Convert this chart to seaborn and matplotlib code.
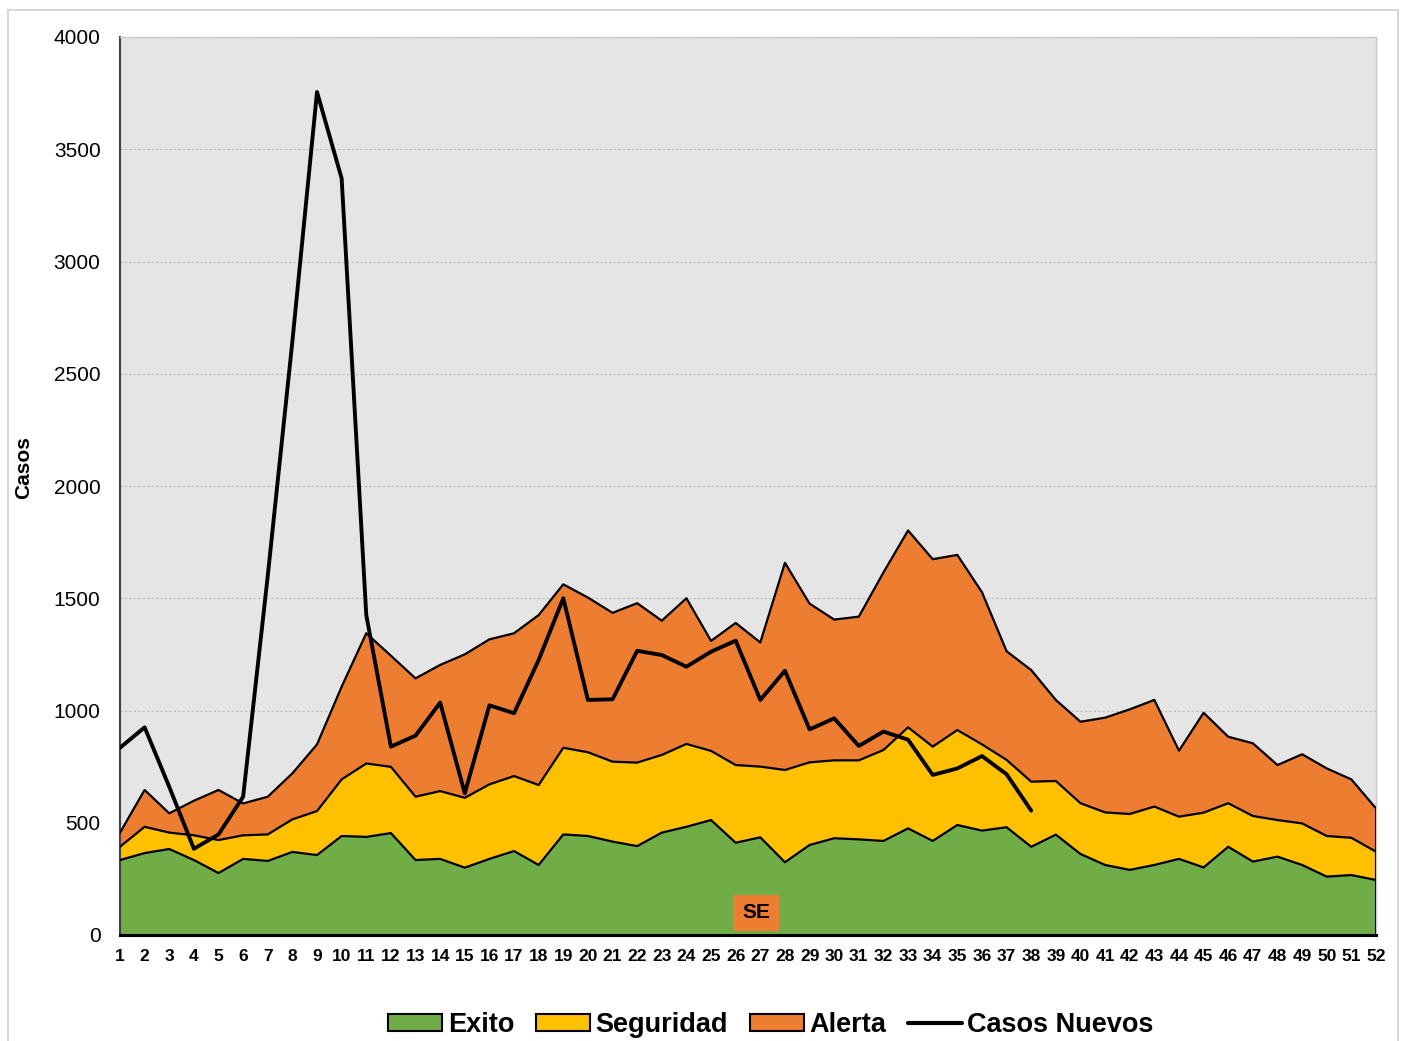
import numpy as np
import pandas as pd
import matplotlib
matplotlib.use("Agg")
import matplotlib.pyplot as plt
from matplotlib.patches import Patch, Rectangle
from matplotlib.lines import Line2D
import seaborn as sns

# ---------------- data ----------------
semanas = list(range(1, 53))

exito = [334, 365, 383, 334, 276, 339, 330, 370, 356, 441, 437, 454, 334, 339, 300, 339,
         374, 312, 448, 441, 416, 396, 456, 482, 512, 411, 435, 324, 401, 431, 426, 419,
         475, 419, 490, 465, 480, 393, 447, 361, 312, 290, 312, 339, 301, 393, 327, 349,
         312, 260, 267, 245]

seguridad = [393, 482, 456, 444, 423, 444, 448, 515, 552, 693, 764, 749, 616, 641, 611, 671,
             708, 668, 834, 814, 772, 768, 802, 851, 820, 757, 750, 735, 769, 778, 778, 824,
             925, 839, 913, 849, 780, 683, 686, 587, 546, 539, 572, 527, 545, 587, 530, 512,
             497, 441, 433, 371]

alerta = [456, 646, 542, 598, 646, 586, 616, 720, 849, 1106, 1344, 1244, 1143, 1203, 1250, 1317,
          1344, 1425, 1562, 1503, 1435, 1478, 1400, 1500, 1310, 1390, 1303, 1658, 1476, 1405, 1418, 1615,
          1802, 1674, 1693, 1527, 1264, 1180, 1047, 950, 968, 1005, 1047, 821, 990, 883, 854, 757,
          805, 742, 693, 564]

casos_semanas = list(range(1, 39))
casos_nuevos = [834, 925, 660, 384, 448, 616, 1600, 2645, 3755, 3370, 1425, 839, 888, 1035, 631, 1023,
                988, 1225, 1500, 1047, 1050, 1266, 1247, 1195, 1262, 1311, 1047, 1177, 916, 965, 842, 906,
                870, 713, 742, 797, 716, 554]

y_ticks = [0, 500, 1000, 1500, 2000, 2500, 3000, 3500, 4000]

# ---------------- style ----------------
sns.set_theme(style="white")
plt.rcParams['font.family'] = ['Liberation Sans', 'DejaVu Sans']
plt.rcParams['text.color'] = 'black'
plt.rcParams['axes.labelcolor'] = 'black'
plt.rcParams['xtick.color'] = 'black'
plt.rcParams['ytick.color'] = 'black'

GREEN = "#70AD47"
YELLOW = "#FFC000"
ORANGE = "#ED7D31"

fig = plt.figure(figsize=(14.10, 10.41), dpi=100)
ax = fig.add_axes([120 / 1410, 1 - 935 / 1041, 1256 / 1410, 898 / 1041])
ax.set_facecolor("#E5E5E5")

df = pd.DataFrame({"semana": semanas, "exito": exito, "seguridad": seguridad, "alerta": alerta})
dc = pd.DataFrame({"semana": casos_semanas, "casos": casos_nuevos})

# stacked channel areas
ax.fill_between(df["semana"], df["seguridad"], df["alerta"], color=ORANGE, lw=0, zorder=2)
ax.fill_between(df["semana"], df["exito"], df["seguridad"], color=YELLOW, lw=0, zorder=2)
ax.fill_between(df["semana"], 0, df["exito"], color=GREEN, lw=0, zorder=2)

for col in ["exito", "seguridad", "alerta"]:
    sns.lineplot(data=df, x="semana", y=col, ax=ax, color="black", lw=1.6, zorder=3,
                 legend=False)
# right edge of the areas
ax.vlines(semanas[-1], 0, alerta[-1], color="black", lw=2.2, zorder=3)

sns.lineplot(data=dc, x="semana", y="casos", ax=ax, color="black", lw=2.8, zorder=4,
             legend=False)

# axes
ax.set_xlim(1, 52)
ax.set_ylim(0, 4000)
ax.set_xticks(semanas)
ax.set_xticklabels([str(s) for s in semanas], fontsize=12.5, fontweight="bold", color="black")
ax.set_yticks(y_ticks)
ax.set_yticklabels([str(v) for v in y_ticks], fontsize=15, color="black")
ax.tick_params(axis="x", direction="inout", length=10, width=1.2, color="black", pad=5,
               labelcolor="black")
ax.tick_params(axis="y", direction="in", length=6, width=1.2, color="#404040", pad=14,
               labelcolor="black")
ax.yaxis.grid(True, linestyle=(0, (2, 2)), color="#BDBDBD", lw=0.8, zorder=1)
ax.xaxis.grid(False)
ax.set_axisbelow(True)
ax.set_xlabel("")
ax.set_ylabel("Casos", fontsize=15, fontweight="bold", color="black")
ax.yaxis.set_label_coords(-87 / 1256, 0.52)

for side in ["top", "right"]:
    ax.spines[side].set_color("#C8C8C8")
    ax.spines[side].set_linewidth(1.0)
ax.spines["left"].set_color("#404040")
ax.spines["left"].set_linewidth(1.5)
ax.spines["bottom"].set_color("black")
ax.spines["bottom"].set_linewidth(2.2)
ax.spines["bottom"].set_zorder(5)

# SE label
ax.text((756 - 120) / 1256, 22 / 898, "SE", transform=ax.transAxes, ha="center", va="center",
        fontsize=15, fontweight="bold", color="black", zorder=6,
        bbox=dict(boxstyle="square,pad=0.42", facecolor=ORANGE, edgecolor="none"))

# outer border
fig.patches.append(Rectangle((8 / 1410, -0.02), 1390 / 1410, 1 - 10 / 1041 + 0.02,
                             transform=fig.transFigure, fill=False, edgecolor="#CFCFCF",
                             lw=1.2, zorder=0))

# legend
handles = [
    Patch(facecolor=GREEN, edgecolor="black", lw=1.5, label="Exito"),
    Patch(facecolor=YELLOW, edgecolor="black", lw=1.5, label="Seguridad"),
    Patch(facecolor=ORANGE, edgecolor="black", lw=1.5, label="Alerta"),
    Line2D([0], [0], color="black", lw=3, label="Casos Nuevos"),
]
leg = fig.legend(handles=handles, loc="center", bbox_to_anchor=(771 / 1410, 1 - 1025 / 1041),
                 ncol=4, frameon=False, prop={"weight": "bold", "size": 19.5},
                 handlelength=2.0, handleheight=0.55, handletextpad=0.2, columnspacing=0.8)
for t in leg.get_texts():
    t.set_color("black")

fig.savefig("out.png", dpi=100)
